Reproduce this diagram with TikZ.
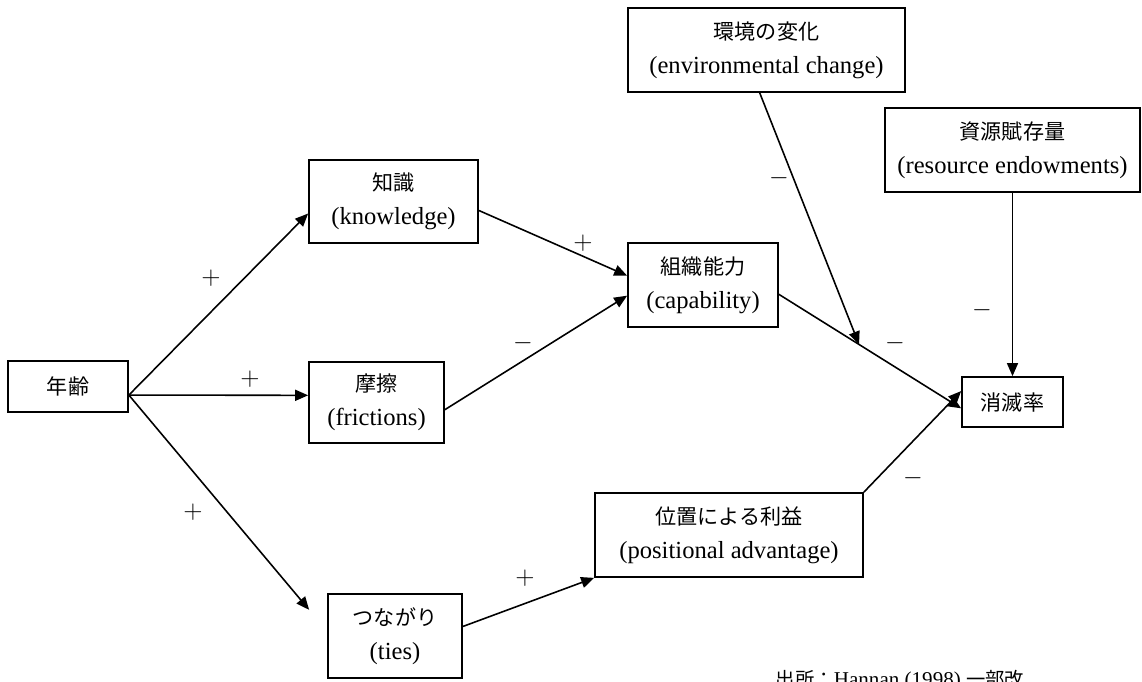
\documentclass[tikz,border=0pt]{standalone}
\usepackage{fontspec}
\setmainfont{Liberation Serif}
\newfontfamily\cjk{Noto Sans CJK JP}
\usetikzlibrary{arrows.meta,calc}
\newcommand{\jp}[1]{{\cjk\fontsize{12}{19.5}\selectfont #1}}
\tikzset{
  % plain rectangle with a Japanese line over an English line
  box/.style  = {rectangle, draw, line width=1pt, inner sep=0pt, align=center,
                 font=\fontsize{14}{19.5}\selectfont},
  arr/.style  = {-{Triangle[length=2.6mm,width=2.2mm]}, line width=0.9pt},
  sgn/.style  = {font=\fontsize{14}{14}\selectfont, inner sep=0pt},
}
\begin{document}
\begin{tikzpicture}[x=0.02cm,y=-0.02cm]
\useasboundingbox (0,0) rectangle (1142,681);
\clip (0,0) rectangle (1142,681);
% boxes
\node[box, minimum width=2.4cm,  minimum height=1.02cm] (age)   at (68,386.5)   {\jp{年齢}};
\node[box, minimum width=3.38cm, minimum height=1.66cm] (know)  at (393.5,201.5) {\jp{知識}\\(knowledge)};
\node[box, minimum width=2.7cm,  minimum height=1.62cm] (fric)  at (376.5,402.5) {\jp{摩擦}\\(frictions)};
\node[box, minimum width=2.68cm, minimum height=1.68cm] (ties)  at (395,636)    {\jp{つながり}\\(ties)};
\node[box, minimum width=3.0cm,  minimum height=1.68cm] (cap)   at (703,285)    {\jp{組織能力}\\(capability)};
\node[box, minimum width=5.36cm, minimum height=1.68cm] (pos)   at (729,535)    {\jp{位置による利益}\\(positional advantage)};
\node[box, minimum width=5.54cm, minimum height=1.68cm] (env)   at (766.5,50)   {\jp{環境の変化}\\(environmental change)};
\node[box, minimum width=5.1cm,  minimum height=1.68cm] (res)   at (1012.5,150) {\jp{資源賦存量}\\(resource endowments)};
\node[box, minimum width=2.02cm, minimum height=1.0cm]  (death) at (1012.5,402) {\jp{消滅率}};
% arrows
\draw[arr] (age.-8) -- (know.188);
\draw[arr] (age.-8) -- (fric.174);
\draw[arr, shorten >=0.56cm] (age.-8) -- (ties.176);
\draw[arr] (know.-6) -- (cap.173);
\draw[arr] (fric.-6) -- (cap.188);
\draw[arr] (ties.8) -- (pos.south west);
\draw[arr] (cap.-7) -- (death.187);
\draw[arr] (pos.north east) -- (death.168);
\draw[arr] (res.south) -- (death.north);
\coordinate (hit) at ($(cap.-7)!0.44!(death.187)$);
\draw[arr] (env.261) -- (hit);
% signs
\node[sgn] (s1)  at (211,278) {$+$};
\node[sgn] (s2)  at (250,379) {$+$};
\node[sgn] (s3)  at (193,512) {$+$};
\node[sgn] (s4)  at (583,243) {$+$};
\node[sgn] (s5)  at (523,343) {$-$};
\node[sgn] (s6)  at (525,578) {$+$};
\node[sgn] (s7)  at (779,178) {$-$};
\node[sgn] (s8)  at (895,343) {$-$};
\node[sgn] (s9)  at (982,310) {$-$};
\node[sgn] (s10) at (913,478) {$-$};
% source note, cut by the page edge as in the original
\node[anchor=base, inner sep=0pt, font=\fontsize{12}{12}\selectfont] (src) at (900,686)
  {{\cjk\fontsize{11}{12}\selectfont 出所：}Hannan (1998) {\cjk\fontsize{11}{12}\selectfont 一部改}};
\end{tikzpicture}
\end{document}
